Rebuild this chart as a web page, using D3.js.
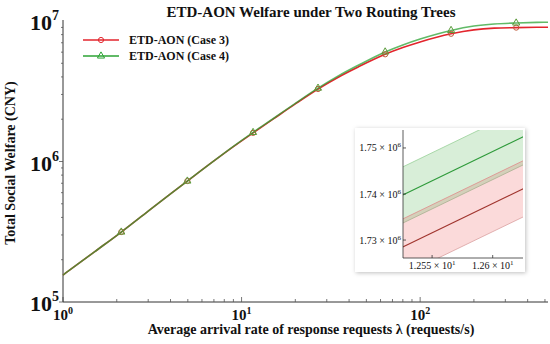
<!DOCTYPE html>
<meta charset="utf-8">
<style>
  body { margin: 0; background: white; }
  svg text { font-family: "Liberation Serif", "DejaVu Serif", serif; font-weight: bold; fill: #111; }
</style>
<body>
<svg width="550" height="344"></svg>
<script src="https://d3js.org/d3.v7.min.js"></script>
<script>

// arrival rate lambda (requests/s)
var lambda = [1, 1.5, 2.12, 3, 4, 4.97, 7, 9, 11.6, 15, 20, 26.8, 35, 45, 63.7, 80, 100, 149, 200, 260, 345, 450, 520];
// total social welfare (CNY)
var case3 = [155600, 227500, 314800, 443600, 588800, 726100, 1009000, 1276000, 1598000, 2000000, 2570000, 3281000,
             3999000, 4710000, 5794000, 6471000, 7096000, 8110000, 8650000, 8892000, 8974000, 9016000, 9036000];
var case4 = [155600, 227500, 314800, 443600, 588800, 726100, 1009000, 1280000, 1610000, 2014000, 2594000, 3327000,
             4083000, 4842000, 6026000, 6761000, 7447000, 8570000, 9204000, 9528000, 9683000, 9772000, 9795000];
// which points get a marker
var markerIdx = [2, 5, 8, 11, 14, 17, 20];

var seriesNames = ["ETD-AON (Case 3)", "ETD-AON (Case 4)"];
var xTickVals = [1, 10, 100];
var yTickVals = [1e5, 1e6, 1e7];

// zoomed inset (lambda around 12.55)
var insetLambda = [12.52, 12.63];
var insetCase3 = [1727740, 1741740];
var insetCase4 = [1739040, 1753040];
var insetBand = 6100;
var insetXTicks = [12.55, 12.6];
var insetXLabels = ["1.255", "1.26"];
var insetYTicks = [1.73e6, 1.74e6, 1.75e6];
var insetYLabels = ["1.73", "1.74", "1.75"];

var red = "#e3252d", green = "#2ca334";

var svg = d3.select("svg");

var x = d3.scaleLog().domain([1, 520]).range([63, 548]);
var y = d3.scaleLog().domain([1e5, 1e7]).range([302, 21]);

// minor tick values
function minors(lo, hi) {
  var out = [];
  for (var p = lo; p < hi; p *= 10)
    for (var k = 1; k < 10; k++) if (p * k <= hi) out.push(p * k);
  return out;
}

// x axis
svg.append("line").attr("x1", 63).attr("x2", 548).attr("y1", 302).attr("y2", 302)
  .attr("stroke", "#333").attr("stroke-width", 1);
svg.append("g").selectAll("line")
  .data(minors(1, 520))
  .enter().append("line")
  .attr("x1", d => x(d)).attr("x2", d => x(d))
  .attr("y1", 302).attr("y2", d => (xTickVals.indexOf(d) >= 0 ? 297 : 299))
  .attr("stroke", "#555").attr("stroke-width", 0.8);
var xl = svg.append("g").selectAll("text").data(xTickVals).enter().append("text")
  .attr("x", d => x(d)).attr("y", 320).attr("text-anchor", "middle").style("font-size", "15px");
xl.append("tspan").text("10");
xl.append("tspan").attr("dy", -6).style("font-size", "10px").text(d => Math.round(Math.log10(d)));

// y axis
svg.append("line").attr("x1", 63).attr("x2", 63).attr("y1", 20).attr("y2", 302)
  .attr("stroke", "#333").attr("stroke-width", 1);
svg.append("g").selectAll("line")
  .data(minors(1e5, 1e7))
  .enter().append("line")
  .attr("x1", 63).attr("x2", d => (yTickVals.indexOf(d) >= 0 ? 59 : 61))
  .attr("y1", d => y(d)).attr("y2", d => y(d))
  .attr("stroke", "#555").attr("stroke-width", 0.8);
var yl = svg.append("g").selectAll("text").data(yTickVals).enter().append("text")
  .attr("x", 59).attr("y", d => y(d) + 9).attr("text-anchor", "end").style("font-size", "22px");
yl.append("tspan").text("10");
yl.append("tspan").attr("dy", -10).style("font-size", "14px").text(d => Math.round(Math.log10(d)));

// lines
var line = d3.line().x(d => x(d[0])).y(d => y(d[1])).curve(d3.curveMonotoneX);
var d3data = lambda.map((l, i) => [l, case3[i]]);
var d4data = lambda.map((l, i) => [l, case4[i]]);

svg.append("path").datum(d3data).attr("d", line)
  .attr("fill", "none").attr("stroke", red).attr("stroke-width", 1.6);
svg.append("path").datum(d4data).attr("d", line)
  .attr("fill", "none").attr("stroke", green).attr("stroke-width", 1.6).attr("stroke-opacity", 0.75);

var tri = d3.symbol().type(d3.symbolTriangle).size(22);
svg.append("g").selectAll("circle").data(markerIdx).enter().append("circle")
  .attr("cx", i => x(lambda[i])).attr("cy", i => y(case3[i])).attr("r", 2.6)
  .attr("fill", "none").attr("stroke", "#c05a3a").attr("stroke-width", 1);
svg.append("g").selectAll("path").data(markerIdx).enter().append("path")
  .attr("d", tri).attr("transform", i => "translate(" + x(lambda[i]) + "," + y(case4[i]) + ")")
  .attr("fill", "none").attr("stroke", "#5a9a3a").attr("stroke-width", 1);

// title and axis labels
svg.append("text").attr("x", 311).attr("y", 17).attr("text-anchor", "middle")
  .style("font-size", "15px").text("ETD-AON Welfare under Two Routing Trees");
svg.append("text").attr("transform", "translate(15,163) rotate(-90)").attr("text-anchor", "middle")
  .style("font-size", "14px").text("Total Social Welfare (CNY)");
svg.append("text").attr("x", 311).attr("y", 334).attr("text-anchor", "middle")
  .style("font-size", "14px").text("Average arrival rate of response requests \u03bb (requests/s)");

// legend
var leg = svg.append("g").selectAll("g").data(seriesNames).enter().append("g")
  .attr("transform", (d, i) => "translate(83," + (40 + i * 16) + ")");
leg.append("line").attr("x1", 0).attr("x2", 36).attr("stroke", (d, i) => i ? green : red).attr("stroke-width", 1.6);
leg.filter((d, i) => i == 0).append("circle").attr("cx", 18).attr("r", 2.6)
  .attr("fill", "none").attr("stroke", red).attr("stroke-width", 1);
leg.filter((d, i) => i == 1).append("path").attr("d", tri).attr("transform", "translate(18,0)")
  .attr("fill", "none").attr("stroke", green).attr("stroke-width", 1);
leg.append("text").attr("x", 46).attr("y", 4).style("font-size", "12px").text(d => d);

// inset
var defs = svg.append("defs");
defs.append("filter").attr("id", "shadow").attr("x", "-10%").attr("y", "-10%").attr("width", "130%").attr("height", "130%")
  .append("feDropShadow").attr("dx", 1).attr("dy", 1).attr("stdDeviation", 2)
  .attr("flood-color", "#000").attr("flood-opacity", 0.25);
defs.append("clipPath").attr("id", "insetClip").append("rect")
  .attr("x", 403).attr("y", 130).attr("width", 120).attr("height", 128);

svg.append("rect").attr("x", 355).attr("y", 128).attr("width", 170).attr("height", 144)
  .attr("fill", "white").attr("filter", "url(#shadow)");

var xi = d3.scaleLinear().domain([12.526, 12.625]).range([403, 523]);
var yi = d3.scaleLinear().domain([1.7261e6, 1.7539e6]).range([258, 130]);

var ig = svg.append("g").attr("clip-path", "url(#insetClip)");
function band(vals, fill) {
  var area = d3.area().x((d, i) => xi(insetLambda[i])).y0(d => yi(d - insetBand)).y1(d => yi(d + insetBand));
  ig.append("path").datum(vals).attr("d", area).attr("fill", fill);
}
band(insetCase3, "rgba(235,70,70,0.2)");
band(insetCase4, "rgba(60,170,60,0.2)");

var il = function (off) {
  return d3.line().x((d, i) => xi(insetLambda[i])).y(d => yi(d + off));
};
ig.append("path").datum(insetCase3).attr("d", il(-insetBand)).attr("fill", "none").attr("stroke", "#d9a0a0").attr("stroke-width", 0.8);
ig.append("path").datum(insetCase3).attr("d", il(insetBand)).attr("fill", "none").attr("stroke", "#e08c8c").attr("stroke-width", 0.8);
ig.append("path").datum(insetCase4).attr("d", il(insetBand)).attr("fill", "none").attr("stroke", "#98d098").attr("stroke-width", 0.8);
ig.append("path").datum(insetCase4).attr("d", il(-insetBand)).attr("fill", "none").attr("stroke", "#a8b090").attr("stroke-width", 0.8);
ig.append("path").datum(insetCase3).attr("d", il(0)).attr("fill", "none").attr("stroke", "#a0352e").attr("stroke-width", 1.1);
ig.append("path").datum(insetCase4).attr("d", il(0)).attr("fill", "none").attr("stroke", "#2e9a3a").attr("stroke-width", 1.1);

svg.append("line").attr("x1", 403).attr("x2", 403).attr("y1", 130).attr("y2", 258).attr("stroke", "#333").attr("stroke-width", 0.8);
svg.append("line").attr("x1", 403).attr("x2", 523).attr("y1", 258).attr("y2", 258).attr("stroke", "#333").attr("stroke-width", 0.8);

svg.append("g").selectAll("line").data(insetYTicks).enter().append("line")
  .attr("x1", 403).attr("x2", 406).attr("y1", d => yi(d)).attr("y2", d => yi(d)).attr("stroke", "#333").attr("stroke-width", 0.8);
svg.append("g").selectAll("line").data(insetXTicks).enter().append("line")
  .attr("x1", d => xi(d)).attr("x2", d => xi(d)).attr("y1", 258).attr("y2", 255).attr("stroke", "#333").attr("stroke-width", 0.8);

var iyl = svg.append("g").selectAll("text").data(insetYTicks).enter().append("text")
  .attr("x", 401).attr("y", d => yi(d) + 3.5).attr("text-anchor", "end").style("font-size", "10px").style("font-weight", "normal");
iyl.append("tspan").text((d, i) => insetYLabels[i] + " \u00d7 10");
iyl.append("tspan").attr("dy", -4).style("font-size", "7px").text("6");

var ixl = svg.append("g").selectAll("text").data(insetXTicks).enter().append("text")
  .attr("x", d => xi(d)).attr("y", 269).attr("text-anchor", "middle").style("font-size", "10px").style("font-weight", "normal");
ixl.append("tspan").text((d, i) => insetXLabels[i] + " \u00d7 10");
ixl.append("tspan").attr("dy", -4).style("font-size", "7px").text("1");

</script>
</body>
